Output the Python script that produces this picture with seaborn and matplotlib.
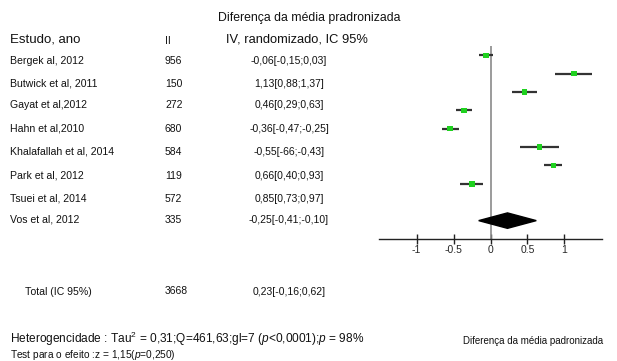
import matplotlib
matplotlib.use("Agg")
import matplotlib.pyplot as plt
import seaborn as sns
import pandas as pd

# dados do forest plot
estudos = ["Bergek al, 2012", "Butwick et al, 2011", "Gayat et al,2012", "Hahn et al,2010",
           "Khalafallah et al, 2014", "Park et al, 2012", "Tsuei et al, 2014", "Vos et al, 2012"]
n_part = [956, 150, 272, 680, 584, 119, 572, 335]
efeito = [-0.06, 1.13, 0.46, -0.36, -0.55, 0.66, 0.85, -0.25]
ic_inf = [-0.15, 0.88, 0.29, -0.47, -0.66, 0.40, 0.73, -0.41]
ic_sup = [0.03, 1.37, 0.63, -0.25, -0.43, 0.93, 0.97, -0.10]
ic_txt = ["-0,06[-0,15;0,03]", "1,13[0,88;1,37]", "0,46[0,29;0,63]", "-0,36[-0,47;-0,25]",
          "-0,55[-66;-0,43]", "0,66[0,40;0,93]", "0,85[0,73;0,97]", "-0,25[-0,41;-0,10]"]
total_n = 3668
total_ef = 0.23
total_inf = -0.16
total_sup = 0.62
total_txt = "0,23[-0,16;0,62]"
ticks = [-1, -0.5, 0, 0.5, 1]
tick_lbl = ["-1", "-0.5", "0", "0.5", "1"]

df = pd.DataFrame({"estudo": estudos, "n": n_part, "ef": efeito, "lo": ic_inf, "hi": ic_sup})
df["linha"] = range(len(df))

sns.set_theme(style="white")
plt.rcParams["font.family"] = ["Liberation Sans", "DejaVu Sans"]
plt.rcParams["mathtext.fontset"] = "custom"
plt.rcParams["mathtext.rm"] = "Liberation Sans"
plt.rcParams["mathtext.it"] = "Liberation Sans:italic"

W, H = 617, 361
fig = plt.figure(figsize=(W / 100, H / 100), dpi=100)
fig.patch.set_facecolor("white")


def px(x, y):
    return x / W, 1 - y / H


def txt(x, y, s, size=8, **kw):
    fx, fy = px(x, y)
    fig.text(fx, fy, s, fontsize=size, va="center", ha=kw.pop("ha", "left"), color="#111111", **kw)


# painel do gráfico
ax = fig.add_axes([379 / W, 1 - 239 / H, 223 / W, 193 / H])
ax.axvline(0, color="#8a8a8a", lw=1.2, zorder=1)
ax.hlines(df["linha"], df["lo"], df["hi"], color="#333333", lw=1.6, zorder=2)
sns.scatterplot(data=df, x="ef", y="linha", marker="s", s=15, color="#1fd11f",
                edgecolor="none", ax=ax, zorder=3)

# diamante do total
yd = len(df) + 1
h = 0.42
ax.fill([total_inf, total_ef, total_sup, total_ef], [yd, yd - h, yd, yd + h],
        color="black", zorder=3)

ax.set_xlim(-1.51, 1.51)
ax.set_ylim(len(df) + 2, -0.5)
ax.set_xticks(ticks)
ax.set_xticklabels(tick_lbl)
ax.set_yticks([])
ax.set_xlabel("")
ax.set_ylabel("")
for s in ["top", "left", "right"]:
    ax.spines[s].set_visible(False)
ax.spines["bottom"].set_color("#222222")
ax.spines["bottom"].set_linewidth(1.0)
ax.tick_params(axis="x", direction="inout", length=7, width=1, color="#222222",
               labelsize=7.5, pad=1, bottom=True)
ax.patch.set_alpha(0)

# textos de cabeçalho
txt(218, 18, "Diferença da média pradronizada", size=8.8)
txt(10, 39, "Estudo, ano", size=9.5)
txt(165, 41, "II", size=7.5)
txt(226, 39, "IV, randomizado, IC 95%", size=9.3)

ys = [61, 84, 105, 129, 152, 176, 199, 220]
for i, y in enumerate(ys):
    txt(10, y, estudos[i], size=7.6)
    txt(165, y, str(n_part[i]), size=7.5)
    txt(289, y, ic_txt[i], size=7.5, ha="center")

txt(25, 292, "Total (IC 95%)", size=7.6)
txt(165, 291, str(total_n), size=7.5)
txt(289, 292, total_txt, size=7.5, ha="center")

txt(10, 339, r"Heterogencidade : Tau$^2$ = 0,31;Q=461,63;gl=7 ($p$<0,0001);$p$ = 98%", size=8.6)
txt(10, 355, r"Test para o efeito :z = 1,15($p$=0,250)", size=7.3)
txt(603, 341, "Diferença da média padronizada", size=7, ha="right")

fig.savefig("out.png", dpi=100)
